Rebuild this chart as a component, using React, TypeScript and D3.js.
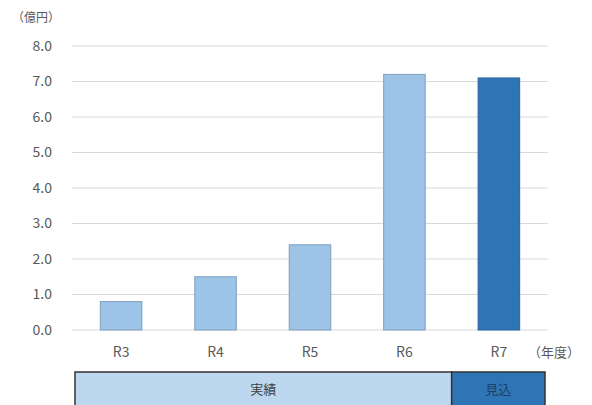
import { useEffect, useRef } from "react";
import * as d3 from "d3";

const years = ["R3", "R4", "R5", "R6", "R7"];
const values = [0.8, 1.5, 2.4, 7.2, 7.1];
const kinds = ["実績", "実績", "実績", "実績", "見込"];
const yTicks = [0, 1, 2, 3, 4, 5, 6, 7, 8];
const bands = [
  { label: "実績", from: "R3", to: "R6" },
  { label: "見込", from: "R7", to: "R7" },
];

const FONT = "'Noto Sans CJK JP', 'Noto Sans', sans-serif";

export default function App() {
  const svgRef = useRef<SVGSVGElement>(null);

  useEffect(() => {
    if (!svgRef.current) return;
    const width = 592;
    const height = 405;
    const margin = { top: 46, right: 44, bottom: 75, left: 72 };

    const svg = d3.select(svgRef.current);
    svg.selectAll("*").remove();

    const x = d3
      .scaleBand<string>()
      .domain(years)
      .range([margin.left, width - margin.right])
      .paddingInner(0.56)
      .paddingOuter(0.3);

    const y = d3
      .scaleLinear()
      .domain([0, 8])
      .range([height - margin.bottom, margin.top]);

    // Grid
    svg
      .append("g")
      .selectAll("line")
      .data(yTicks)
      .join("line")
      .attr("x1", margin.left)
      .attr("x2", width - margin.right)
      .attr("y1", (d) => y(d))
      .attr("y2", (d) => y(d))
      .attr("stroke", "#d9d9d9")
      .attr("stroke-width", 1);

    // Y labels
    svg
      .append("g")
      .selectAll("text")
      .data(yTicks)
      .join("text")
      .attr("x", 52)
      .attr("y", (d) => y(d))
      .attr("dy", "0.35em")
      .attr("text-anchor", "end")
      .attr("font-family", FONT)
      .attr("font-size", 14)
      .attr("fill", "#595959")
      .text((d) => d3.format(".1f")(d));

    svg
      .append("text")
      .attr("x", 12)
      .attr("y", 22)
      .attr("font-family", FONT)
      .attr("font-size", 12)
      .attr("fill", "#595959")
      .text("（億円）");

    // Bars
    svg
      .append("g")
      .selectAll("rect")
      .data(years)
      .join("rect")
      .attr("x", (d) => x(d)!)
      .attr("width", x.bandwidth())
      .attr("y", (_, i) => y(values[i]))
      .attr("height", (_, i) => y(0) - y(values[i]))
      .attr("fill", (_, i) => (kinds[i] === "見込" ? "#2e75b6" : "#9dc3e6"))
      .attr("stroke", (_, i) => (kinds[i] === "見込" ? "#2a64a0" : "#7f9fbf"))
      .attr("stroke-width", 1);

    // X labels
    svg
      .append("g")
      .selectAll("text")
      .data(years)
      .join("text")
      .attr("x", (d) => x(d)! + x.bandwidth() / 2)
      .attr("y", 357)
      .attr("text-anchor", "middle")
      .attr("font-family", FONT)
      .attr("font-size", 14)
      .attr("fill", "#595959")
      .text((d) => d);

    svg
      .append("text")
      .attr("x", 528)
      .attr("y", 357)
      .attr("font-family", FONT)
      .attr("font-size", 13)
      .attr("fill", "#595959")
      .text("（年度）");

    // Bottom band
    const step = x.step();
    const bandX0 = (name: string) => x(name)! + x.bandwidth() / 2 - step / 2;
    const bandX1 = (name: string) => x(name)! + x.bandwidth() / 2 + step / 2;
    const bandG = svg.append("g");
    bands.forEach((b) => {
      const x0 = Math.max(bandX0(b.from), 75);
      const x1 = Math.min(bandX1(b.to), 545);
      const dark = b.label === "見込";
      bandG
        .append("rect")
        .attr("x", x0)
        .attr("y", 372)
        .attr("width", x1 - x0)
        .attr("height", 40)
        .attr("fill", dark ? "#2e75b6" : "#bdd7ee")
        .attr("stroke", "#333333")
        .attr("stroke-width", 1.5);
      bandG
        .append("text")
        .attr("x", (x0 + x1) / 2)
        .attr("y", 394)
        .attr("text-anchor", "middle")
        .attr("font-family", FONT)
        .attr("font-size", 13)
        .attr("fill", dark ? "#1f3f66" : "#404040")
        .text(b.label);
    });
  }, []);

  return (
    <svg
      ref={svgRef}
      width={592}
      height={405}
      style={{ position: "absolute", left: 0, top: 0, background: "#fff" }}
    />
  );
}
